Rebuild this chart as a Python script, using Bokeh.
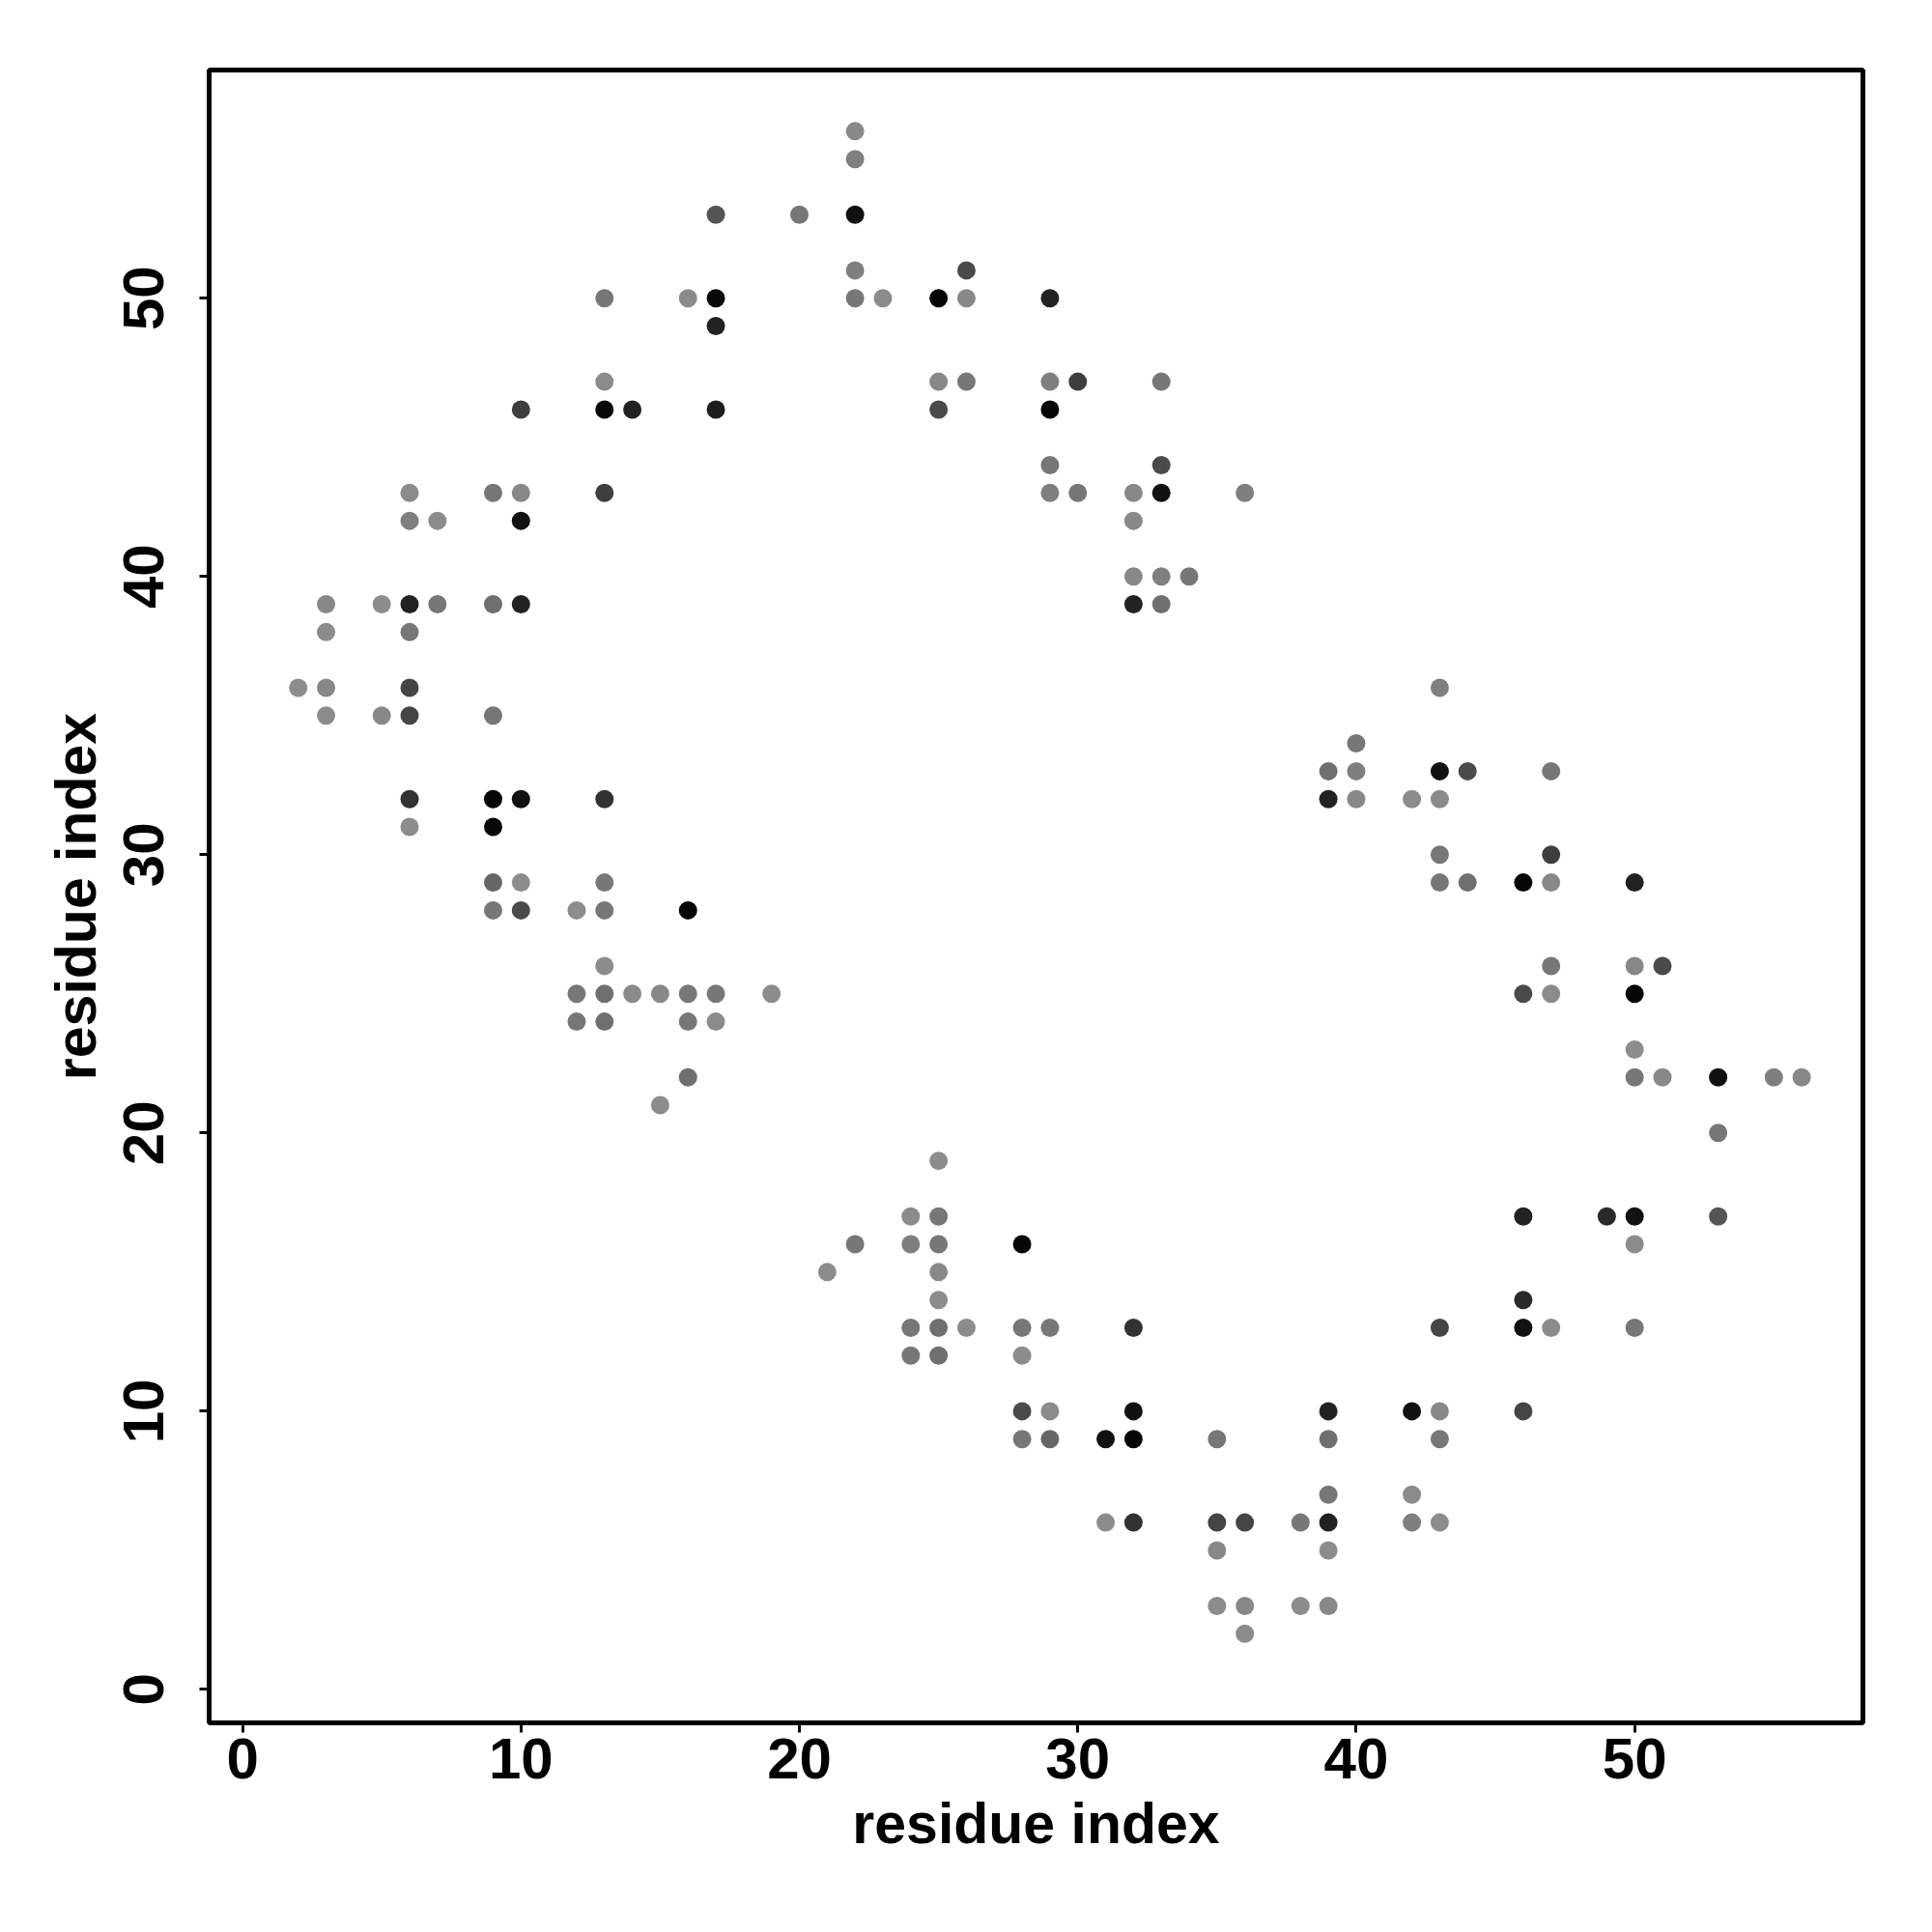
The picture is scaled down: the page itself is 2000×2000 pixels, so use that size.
from bokeh.plotting import figure
from bokeh.models import ColumnDataSource, FixedTicker, Range1d
from bokeh.embed import file_html
from bokeh.resources import INLINE

# Contact map: residue i (x), residue j (y), contact strength (0 = weak/light, 1 = strong/black)
res_i = [22, 22,
         17, 20, 22,
         22, 26,
         13, 16, 17, 22, 23, 25, 26, 29,
         17,
         13, 25, 26, 29, 30, 33,
         10, 13, 14, 17, 25, 29,
         29, 33,
         6, 9, 10, 13, 29, 30, 32, 33, 36,
         6, 7, 10, 32,
         32, 33, 34,
         3, 5, 6, 7, 9, 10, 32, 33,
         3, 6,
         2, 3, 6,
         3, 5, 6, 9,
         6, 9, 10, 13,
         6, 9,
         9, 10, 13,
         9, 10, 12, 13, 16,
         13,
         12, 13, 14, 15, 16, 17, 19,
         12, 13, 16, 17,
         16,
         15,
         43,
         40,
         39, 40, 43, 44, 47,
         39, 40, 42, 43,
         43, 47,
         43, 44, 46, 47, 50,
         47, 50, 51,
         46, 47, 50,
         50,
         50, 51, 53, 55, 56,
         53,
         25,
         24, 25, 46, 49, 50, 53,
         22, 24, 25, 28, 50,
         21, 25,
         25, 46,
         24, 25, 26, 28, 29, 32, 43, 46, 47, 50,
         24, 25, 28,
         28, 29, 32, 39, 42, 43, 46,
         28, 29, 31, 32, 35, 39, 43,
         39, 42,
         31, 32, 35, 36, 38, 39, 42, 43,
         35, 39,
         35, 36, 38, 39,
         36]

res_j = [56, 55,
         53, 53, 53,
         51, 51,
         50, 50, 50, 50, 50, 50, 50, 50,
         49,
         47, 47, 47, 47, 47, 47,
         46, 46, 46, 46, 46, 46,
         44, 44,
         43, 43, 43, 43, 43, 43, 43, 43, 43,
         42, 42, 42, 42,
         40, 40, 40,
         39, 39, 39, 39, 39, 39, 39, 39,
         38, 38,
         36, 36, 36,
         35, 35, 35, 35,
         32, 32, 32, 32,
         31, 31,
         29, 29, 29,
         28, 28, 28, 28, 28,
         26,
         25, 25, 25, 25, 25, 25, 25,
         24, 24, 24, 24,
         22,
         21,
         36,
         34,
         33, 33, 33, 33, 33,
         32, 32, 32, 32,
         30, 30,
         29, 29, 29, 29, 29,
         26, 26, 26,
         25, 25, 25,
         23,
         22, 22, 22, 22, 22,
         20,
         19,
         17, 17, 17, 17, 17, 17,
         16, 16, 16, 16, 16,
         15, 15,
         14, 14,
         13, 13, 13, 13, 13, 13, 13, 13, 13, 13,
         12, 12, 12,
         10, 10, 10, 10, 10, 10, 10,
         9, 9, 9, 9, 9, 9, 9,
         7, 7,
         6, 6, 6, 6, 6, 6, 6, 6,
         5, 5,
         3, 3, 3, 3,
         2]

strength = [0.03, 0.09,
            0.39, 0.15, 0.88,
            0.09, 0.47,
            0.15, 0.01, 0.94, 0.15, 0.00, 0.96, 0.03, 0.76,
            0.76,
            0.01, 0.03, 0.15, 0.09, 0.56, 0.15,
            0.56, 0.94, 0.76, 0.79, 0.47, 0.96,
            0.15, 0.47,
            0.01, 0.15, 0.03, 0.56, 0.09, 0.15, 0.03, 0.88, 0.09,
            0.09, 0.00, 0.88, 0.03,
            0.03, 0.09, 0.15,
            0.03, 0.00, 0.76, 0.15, 0.21, 0.76, 0.76, 0.21,
            0.01, 0.15,
            0.00, 0.03, 0.51,
            0.00, 0.03, 0.51, 0.15,
            0.64, 0.96, 0.88, 0.64,
            0.00, 0.94,
            0.27, 0.00, 0.15,
            0.15, 0.47, 0.00, 0.15, 0.96,
            0.00,
            0.15, 0.21, 0.01, 0.03, 0.15, 0.15, 0.00,
            0.15, 0.21, 0.15, 0.01,
            0.21,
            0.00,
            0.09,
            0.15,
            0.21, 0.09, 0.88, 0.47, 0.15,
            0.76, 0.03, 0.01, 0.01,
            0.15, 0.56,
            0.15, 0.21, 0.96, 0.03, 0.76,
            0.15, 0.03, 0.47,
            0.47, 0.01, 0.96,
            0.00,
            0.15, 0.03, 0.88, 0.09, 0.03,
            0.15,
            0.00,
            0.01, 0.15, 0.76, 0.70, 0.88, 0.39,
            0.15, 0.09, 0.15, 0.96, 0.00,
            0.00, 0.03,
            0.00, 0.70,
            0.15, 0.21, 0.00, 0.15, 0.15, 0.64, 0.51, 0.88, 0.01, 0.15,
            0.15, 0.21, 0.00,
            0.47, 0.00, 0.88, 0.76, 0.88, 0.03, 0.51,
            0.15, 0.27, 0.88, 0.96, 0.15, 0.21, 0.15,
            0.15, 0.01,
            0.00, 0.64, 0.51, 0.51, 0.15, 0.76, 0.09, 0.00,
            0.03, 0.00,
            0.00, 0.03, 0.00, 0.03,
            0.00]

tick_values = [0, 10, 20, 30, 40, 50]
axis_title = "residue index"

assert len(res_i) == len(res_j) == len(strength)


def shade(s):
    g = int(round(140 * (1 - s)))
    return "#%02x%02x%02x" % (g, g, g)


src = ColumnDataSource(dict(i=res_i, j=res_j, color=[shade(s) for s in strength]))

p = figure(frame_width=1712, frame_height=1711,
           min_border_left=216, min_border_right=50,
           min_border_top=72, min_border_bottom=190,
           x_range=Range1d(-1.2, 58.2), y_range=Range1d(-1.2, 58.2),
           output_backend="svg", toolbar_location=None)

p.scatter(x="i", y="j", source=src, size=19, fill_color="color", line_color=None)

p.grid.visible = False
p.outline_line_color = "black"
p.outline_line_width = 5
p.background_fill_color = "white"
p.border_fill_color = "white"

FONT = "'Liberation Sans', Arial, sans-serif"
for ax in (p.xaxis[0], p.yaxis[0]):
    ax.ticker = FixedTicker(ticks=tick_values)
    ax.axis_line_color = None
    ax.major_tick_line_color = "black"
    ax.major_tick_line_width = 3
    ax.major_tick_out = 10
    ax.major_tick_in = 0
    ax.minor_tick_line_color = None
    ax.major_label_text_font = FONT
    ax.major_label_text_font_style = "bold"
    ax.major_label_text_font_size = "60px"
    ax.major_label_text_color = "black"
    ax.axis_label = axis_title
    ax.axis_label_text_font = FONT
    ax.axis_label_text_font_style = "bold"
    ax.axis_label_text_font_size = "59px"
    ax.axis_label_text_color = "black"

p.xaxis[0].major_label_standoff = 6
p.xaxis[0].axis_label_standoff = 11
p.yaxis[0].major_label_standoff = 37
p.yaxis[0].major_label_orientation = "vertical"
p.yaxis[0].axis_label_standoff = 14

open("out.html", "w").write(file_html(p, INLINE))
